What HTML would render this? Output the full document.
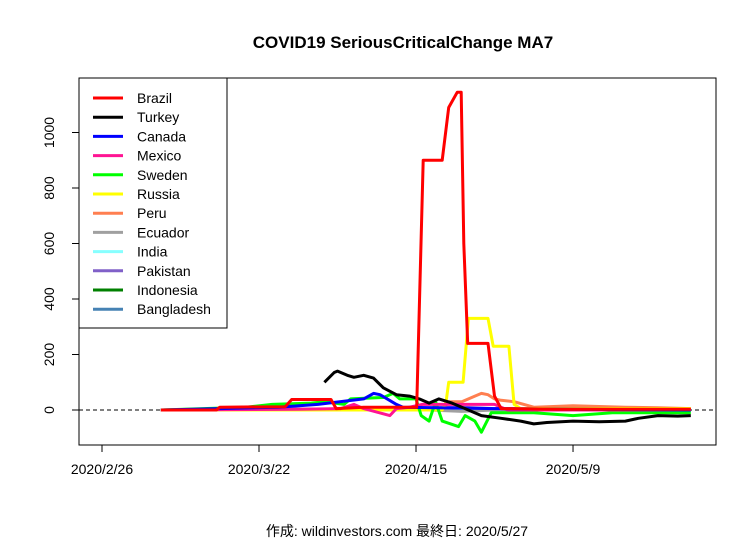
<!DOCTYPE html>
<html><head><meta charset="utf-8"><style>
body{margin:0;background:#fff;font-family:"Liberation Sans","Noto Sans CJK JP",sans-serif}
svg text{font-family:"Liberation Sans","Noto Sans CJK JP",sans-serif}
</style></head><body>
<svg id="chart" width="756" height="542" xmlns="http://www.w3.org/2000/svg">
<rect width="756" height="542" fill="#fff"/>
<text x="403" y="48" text-anchor="middle" font-size="17" font-weight="bold">COVID19 SeriousCriticalChange MA7</text>
<rect x="79" y="78" width="637" height="367" fill="none" stroke="#000"/>
<line x1="79" x2="716" y1="410" y2="410" stroke="#000" stroke-dasharray="4,3"/>
<g id="series"></g>
<g id="axes"></g>
<g id="legend"></g>
<text x="397" y="536" text-anchor="middle" font-size="14">作成: wildinvestors.com 最終日: 2020/5/27</text>
</svg>
<script>
// x in days since 2020/2/26
const xTickLabels=["2020/2/26","2020/3/22","2020/4/15","2020/5/9"];
const xTickDays=[0,24,48,72];
const yTicks=[0,200,400,600,800,1000];
const names=["Brazil","Turkey","Canada","Mexico","Sweden","Russia","Peru","Ecuador","India","Pakistan","Indonesia","Bangladesh"];
const colors=["#ff0000","#000000","#0000ff","#ff1493","#00ff00","#ffff00","#ff7f50","#a0a0a0","#87ffff","#8060c8","#008000","#4682b4"];
const brazilDays=[9,17.5,18,28,29,35,35.8,40,48.1,49.1,52,53,54.3,54.9,55.3,55.9,59,60,61,70,90];
const brazilVals=[0,0,10,12,38,38,5,10,10,900,900,1090,1145,1145,600,240,240,50,5,3,3];
const turkeyDays=[34,35.5,36,37.5,38.5,40,41.5,43,45,47,48.5,50,51.5,53.5,55.5,58,61,64,66,68,72,76,80,82,85,88,90];
const turkeyVals=[100,135,140,125,118,125,115,80,55,50,40,25,40,25,5,-20,-30,-40,-50,-45,-40,-42,-40,-30,-20,-22,-20];
const canadaDays=[9,18,27,33,40,41.5,42.5,45,46,60,90];
const canadaVals=[0,5,10,20,40,60,55,20,10,5,0];
const mexicoDays=[9,30,36.5,38.5,40,44,45,47,49,52,60,62,90];
const mexicoVals=[0,3,5,20,5,-20,5,10,20,20,20,0,0];
const swedenDays=[9,22,26,32,34,37,38,43,44.5,45.5,48,48.8,50,51,52,54.5,55.5,57,58,59.5,66,72,78,82,90];
const swedenVals=[0,10,20,25,30,20,40,45,60,40,40,-20,-40,30,-40,-60,-20,-40,-80,-10,-10,-20,-10,-10,-10];
const russiaDays=[9,52,52.6,53,55.2,56,59,59.8,62.2,63,64,90];
const russiaVals=[0,0,30,100,100,330,330,230,230,20,5,5];
const peruDays=[9,42,52,53,55,57,58,59,60,61,63,66,72,80,85,90];
const peruVals=[0,0,0,30,30,50,60,55,40,35,30,10,15,10,8,5];
const ecuadorDays=[9,45,55,60,90];
const ecuadorVals=[0,5,-5,0,0];
const indiaDays=[9,90];
const indiaVals=[0,2];
const pakistanDays=[9,45,55,60,90];
const pakistanVals=[0,5,10,5,3];
const indonesiaDays=[9,90];
const indonesiaVals=[0,0];
const bangladeshDays=[9,90];
const bangladeshVals=[0,0];
const allDays=[brazilDays,turkeyDays,canadaDays,mexicoDays,swedenDays,russiaDays,peruDays,ecuadorDays,indiaDays,pakistanDays,indonesiaDays,bangladeshDays];
const allVals=[brazilVals,turkeyVals,canadaVals,mexicoVals,swedenVals,russiaVals,peruVals,ecuadorVals,indiaVals,pakistanVals,indonesiaVals,bangladeshVals];

const NS="http://www.w3.org/2000/svg";
const xS=d=>102+d*6.542;
const yS=v=>410-v*0.2775;
const mk=(t,a,p)=>{const e=document.createElementNS(NS,t);for(const k in a)e.setAttribute(k,a[k]);p.appendChild(e);return e;};
const sg=document.getElementById('series');
for(let s=names.length-1;s>=0;s--){
  const pts=allDays[s].map((d,i)=>xS(d).toFixed(1)+','+yS(allVals[s][i]).toFixed(1)).join(' ');
  const pl=mk('polyline',{points:pts,fill:'none',stroke:colors[s],'stroke-width':3,'stroke-linejoin':'round'},sg);
  
  
}
const ax=document.getElementById('axes');
mk('line',{x1:79,x2:79,y1:yS(0),y2:yS(1000),stroke:'#000'},ax);
yTicks.forEach(v=>{
  mk('line',{x1:72,x2:79,y1:yS(v),y2:yS(v),stroke:'#000'},ax);
  const t=mk('text',{x:54,y:yS(v),'font-size':14,'text-anchor':'middle',transform:`rotate(-90 54 ${yS(v)})`},ax);
  t.textContent=v;
  
  
});
mk('line',{x1:xS(0),x2:xS(72),y1:445,y2:445,stroke:'#000'},ax);
xTickDays.forEach((d,i)=>{
  mk('line',{x1:xS(d),x2:xS(d),y1:445,y2:452,stroke:'#000'},ax);
  const t=mk('text',{x:xS(d),y:474,'font-size':14,'text-anchor':'middle'},ax);
  t.textContent=xTickLabels[i];
  
  
});
const lg=document.getElementById('legend');
mk('rect',{x:79,y:78,width:148,height:250,fill:'#fff',stroke:'#000'},lg);
names.forEach((n,i)=>{
  const y=98+i*19.2;
  mk('line',{x1:93,x2:123,y1:y,y2:y,stroke:colors[i],'stroke-width':3},lg);
  const t=mk('text',{x:137,y:y+5,'font-size':14},lg);
  t.textContent=n;
  
  
});
</script>
</body></html>
